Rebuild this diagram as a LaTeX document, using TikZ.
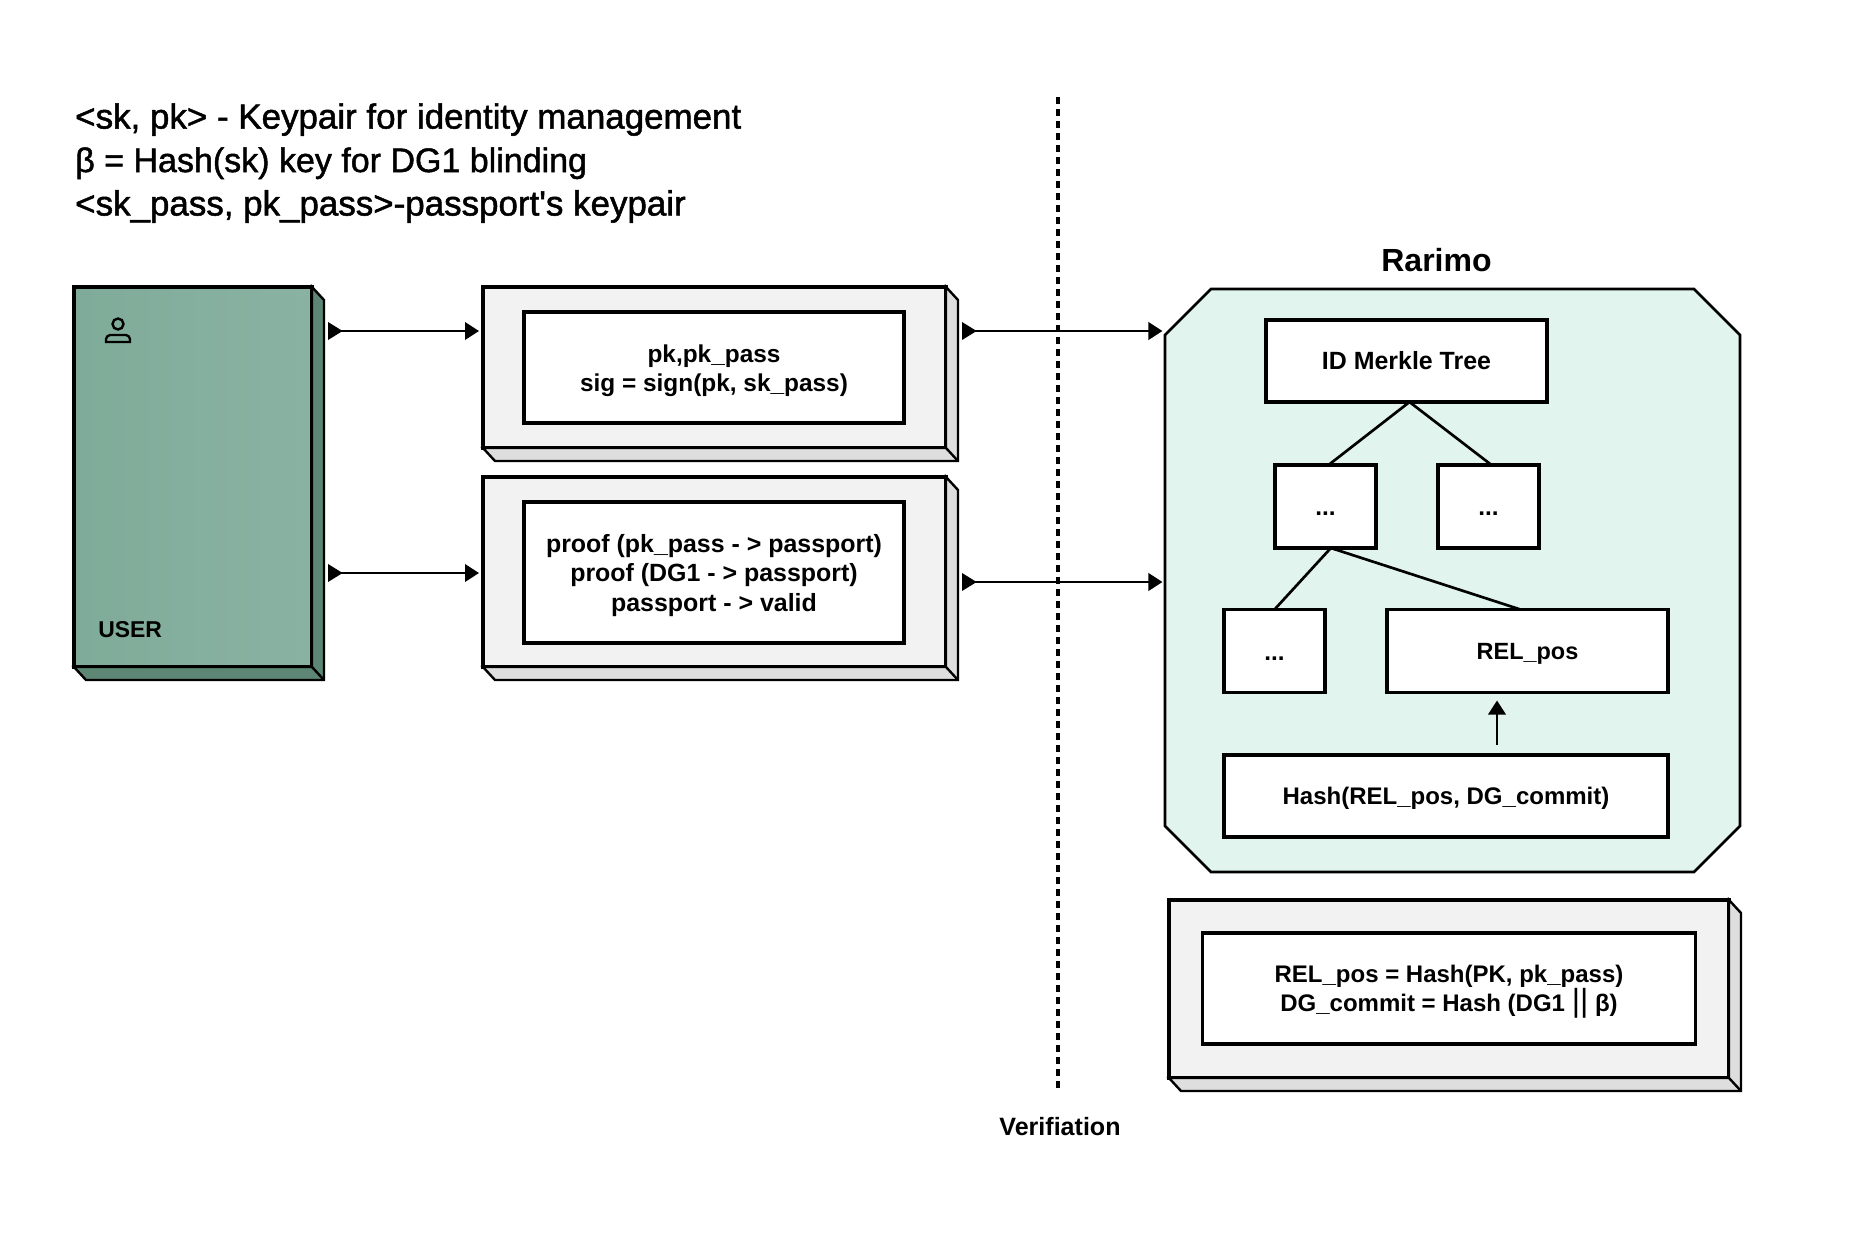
\documentclass[tikz,border=0pt]{standalone}
\usepackage{fontspec}
\setmainfont{Liberation Sans}
\newfontfamily\mediumfont{Liberation Sans}[FakeBold=1.4]
\usetikzlibrary{arrows.meta}
\tikzset{>={Triangle[length=10.5pt, width=13pt]}}
\tikzset{
    wh/.style 2 args={minimum width=#1*.75pt, minimum height=#2*.75pt, inner sep=0pt, outer sep=0pt},
    fs/.style={font=\bfseries\fontsize{#1}{22}\selectfont},
    dropped/.style={execute at begin node=\rule{0pt}{#1}},
    boxed/.style={draw, line width=2.3pt, fill=white, align=center},
    card/.style={draw, line width=2.3pt, fill=cardgrey},
    flow/.style={{Triangle[reversed, length=11pt, width=13pt]}->, line width=2pt, shorten <=12pt, shorten >=3pt},
    label/.style={align=center, inner sep=0pt}
}
\definecolor{cardgrey}{HTML}{F2F2F2}
\definecolor{carddepth}{HTML}{DEDEDE}
\definecolor{userleft}{HTML}{7FAB99}
\definecolor{userright}{HTML}{8AB2A2}
\definecolor{userdepth}{HTML}{5D8674}
\definecolor{mintfill}{HTML}{E1F4EE}
\newcommand{\droprule}{\rule{0pt}{18pt}}
\newcommand{\slab}[2]{
    \draw [line width=1.8pt, line join=miter, fill=#2] (#1.north east) -- ([shift={(12,13)}]#1.north east) -- ([shift={(12,13)}]#1.south east) -- ([shift={(12,13)}]#1.south west) -- (#1.south west) -- (#1.south east) -- cycle;
    \draw [line width=1.8pt] (#1.south east) -- ([shift={(12,13)}]#1.south east);
}
\begin{document}
\begin{tikzpicture}[x=.75pt, y=-.75pt]
    \useasboundingbox (0, 0) rectangle (1860, 1239);
    \node [anchor=west, align=left, inner sep=0pt, font=\mediumfont\fontsize{26.2}{32.6}\selectfont] (legend) at (75, 163) {<sk, pk> - Keypair for identity management\\{\fontsize{25.5}{32.6}\selectfont β = Hash(sk) key for DG1 blinding}\\<sk\_pass, pk\_pass>-passport\textquotesingle s keypair};

    % user block
    \node [card, wh={238}{380}, left color=userleft, right color=userright] (user) at (193, 477) {};
    \slab{user}{userdepth}
    \node [label, fs=17.2, anchor=west] (userlabel) at (98, 630) {USER};
    \draw [line width=1.8pt] (118, 324) circle [radius=5.5];
    \draw [line width=1.8pt] (106, 342) -- (106, 339) to [bend left=35] (110, 335) -- (126, 335) to [bend left=35] (130, 339) -- (130, 342) -- cycle;

    % middle cards
    \node [card, wh={463}{161}] (card1) at (714.5, 367.5) {};
    \slab{card1}{carddepth}
    \node [boxed, fs=18.3, wh={380}{111}] (inner1) at (714, 367.5) {\droprule pk,pk\_pass\\sig = sign(pk, sk\_pass)};
    \node [card, wh={463}{190}] (card2) at (714.5, 572) {};
    \slab{card2}{carddepth}
    \node [boxed, fs=18.7, wh={380}{141}] (inner2) at (714, 572.5) {\droprule proof (pk\_pass - > passport)\\proof (DG1 - > passport)\\passport - > valid};

    \draw [flow] (user.east |- 0,331) -- (card1.west |- 0,331);
    \draw [flow] (user.east |- 0,573) -- (card2.west |- 0,573);

    % rarimo
    \node [fs=24, inner sep=0pt] (rarimotitle) at (1436.5, 260) {Rarimo};
    \node [wh={575}{583}] (rarimo) at (1452.5, 580.5) {};
    \draw [line width=2pt, fill=mintfill] ([shift={(46,0)}]rarimo.north west) -- ([shift={(-46,0)}]rarimo.north east) -- ([shift={(0,46)}]rarimo.north east) -- ([shift={(0,-46)}]rarimo.south east) -- ([shift={(-46,0)}]rarimo.south east) -- ([shift={(46,0)}]rarimo.south west) -- ([shift={(0,-46)}]rarimo.south west) -- ([shift={(0,46)}]rarimo.north west) -- cycle;
    \node [boxed, fs=18.7, wh={281}{82}] (root) at (1406.5, 361) {ID Merkle Tree};
    \node [boxed, fs=18.3, dropped=14pt, wh={101}{83}] (dotsa) at (1325.5, 506.5) {...};
    \node [boxed, fs=18.3, dropped=14pt, wh={101}{83}] (dotsb) at (1488.5, 506.5) {...};
    \node [boxed, fs=18.3, dropped=14pt, wh={101}{83}] (dotsc) at (1274.5, 651) {...};
    \node [boxed, fs=17.6, dropped=16.8pt, wh={281}{83}] (relpos) at (1527.5, 651) {REL\_pos};
    \node [boxed, fs=18, dropped=16.8pt, wh={444}{82}] (hash) at (1446, 796) {Hash(REL\_pos, DG\_commit)};

    \draw [line width=2pt] ([xshift=2.25]root.south) -- ([xshift=2.25]dotsa.north);
    \draw [line width=2pt] ([xshift=2.25]root.south) -- ([xshift=2.25]dotsb.north);
    \draw [line width=2pt] ([xshift=4]dotsa.south) -- (dotsc.north);
    \draw [line width=2pt] ([xshift=4]dotsa.south) -- ([xshift=-5.25]relpos.north);
    \draw [->, line width=2pt, shorten <=7.5pt, shorten >=6pt] (hash.north -| 1497,0) -- (relpos.south -| 1497,0);

    \draw [flow, shorten >=1.9pt] (card1.east |- 0,331) -- (rarimo.west |- 0,331);
    \draw [flow, shorten >=1.9pt] (card2.east |- 0,582) -- (rarimo.west |- 0,582);

    % bottom card
    \node [card, wh={560}{178}] (card3) at (1449, 989) {};
    \slab{card3}{carddepth}
    \node [boxed, fs=18, wh={493.5}{111}] (inner3) at (1449, 988.5) {\droprule REL\_pos = Hash(PK, pk\_pass)\\DG\_commit = Hash (DG1 {\fontsize{24}{22}\selectfont\mdseries||} β)};

    % separator
    \coordinate (septop) at (1058, 97);
    \coordinate (sepbottom) at (1058, 1090);
    \draw [line width=2.4pt, dash pattern=on 5.25pt off 3.75pt] (septop) -- (sepbottom);
    \node [label, fs=18.8] (verif) at (1060, 1127) {Verifiation};
\end{tikzpicture}
\end{document}
